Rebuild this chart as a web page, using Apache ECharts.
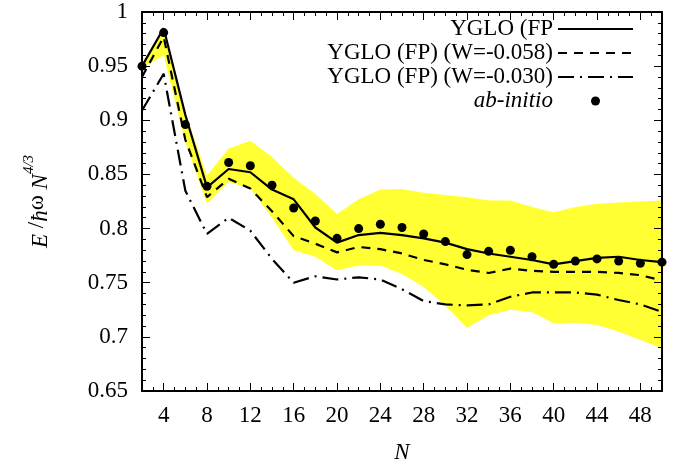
<!DOCTYPE html>
<html>
<head>
<meta charset="utf-8">
<script src="https://cdn.jsdelivr.net/npm/echarts@6/dist/echarts.min.js"></script>
<style>
  html, body { margin: 0; padding: 0; background: #fff; }
  #chart { width: 687px; height: 469px; }
</style>
</head>
<body>
<div id="chart"></div>
<script>
// Particle numbers (even N from 2 to 50)
const N = [2, 4, 6, 8, 10, 12, 14, 16, 18, 20, 22, 24, 26, 28, 30, 32, 34, 36, 38, 40, 42, 44, 46, 48, 50];

// Scaled energies E / (hbar omega N^{4/3})
const abInitio = [0.950, 0.981, 0.896, 0.839, 0.861, 0.858, 0.840, 0.819, 0.807, 0.791, 0.800, 0.804, 0.801,
                  0.795, 0.788, 0.776, 0.779, 0.780, 0.774, 0.767, 0.770, 0.772, 0.770, 0.768, 0.769];
const ygloFP   = [0.950, 0.985, 0.905, 0.838, 0.855, 0.852, 0.836, 0.827, 0.801, 0.787, 0.794, 0.796, 0.794,
                  0.791, 0.787, 0.781, 0.777, 0.774, 0.771, 0.767, 0.770, 0.773, 0.774, 0.771, 0.769];
const ygloW058 = [0.940, 0.977, 0.882, 0.829, 0.846, 0.837, 0.816, 0.793, 0.786, 0.778, 0.783, 0.781, 0.777,
                  0.771, 0.767, 0.762, 0.759, 0.763, 0.761, 0.760, 0.760, 0.760, 0.759, 0.757, 0.752];
const ygloW030 = [0.909, 0.943, 0.835, 0.795, 0.810, 0.798, 0.772, 0.750, 0.756, 0.753, 0.755, 0.753, 0.744,
                  0.733, 0.730, 0.729, 0.730, 0.737, 0.741, 0.741, 0.741, 0.739, 0.734, 0.730, 0.723];

// Uncertainty band limits
const bandUpper = [0.953, 0.985, 0.907, 0.849, 0.874, 0.881, 0.866, 0.847, 0.832, 0.8135, 0.827, 0.836, 0.8365,
                   0.833, 0.831, 0.829, 0.826, 0.826, 0.820, 0.815, 0.820, 0.823, 0.824, 0.825, 0.826];
const bandLower = [0.948, 0.960, 0.880, 0.823, 0.843, 0.837, 0.810, 0.780, 0.774, 0.7615, 0.766, 0.766, 0.758,
                   0.746, 0.729, 0.7085, 0.720, 0.725, 0.723, 0.7125, 0.713, 0.711, 0.705, 0.697, 0.6895];

// Axis labels
const xTickLabels = [4, 8, 12, 16, 20, 24, 28, 32, 36, 40, 44, 48];

const seriesNames = ['YGLO (FP', 'YGLO (FP) (W=-0.058)', 'YGLO (FP) (W=-0.030)', 'ab-initio'];

const pairs = (ys) => N.map((n, i) => [n, ys[i]]);
const bandData = N.map((n, i) => [n, bandLower[i], bandUpper[i]]);

const FONT = 'Liberation Serif';
const black = '#000';
const LW = 2.2;

const xBase = {
  type: 'value', min: 2, max: 50, z: 5,
  splitLine: { show: false },
  axisLine: { show: true, onZero: false, lineStyle: { color: black, width: 2 } },
  axisLabel: { show: false }
};

// Whole band drawn as one polygon: upper edge left-to-right, lower edge back.
function renderBand(params, api) {
  if (params.dataIndex !== 0) return null;
  const upper = bandData.map(d => api.coord([d[0], d[2]]));
  const lower = bandData.map(d => api.coord([d[0], d[1]])).reverse();
  return {
    type: 'polygon',
    shape: { points: upper.concat(lower) },
    style: { fill: '#ffff33', stroke: null },
    silent: true
  };
}

const chart = echarts.init(document.getElementById('chart'), null, { renderer: 'canvas' });

chart.setOption({
  animation: false,
  backgroundColor: '#fff',
  grid: { left: 142, right: 25, top: 12, bottom: 76 },
  xAxis: [
    Object.assign({}, xBase, {
      position: 'bottom', interval: 1,
      name: 'N', nameLocation: 'middle', nameGap: 50,
      nameTextStyle: { fontFamily: FONT, fontSize: 23, fontStyle: 'italic', color: black },
      axisTick: { inside: true, length: 4, lineStyle: { color: black, width: 1 } },
      axisLabel: { show: true, customValues: xTickLabels, color: black, fontFamily: FONT, fontSize: 23, margin: 13 }
    }),
    Object.assign({}, xBase, {
      position: 'bottom', axisLine: { show: false },
      axisTick: { inside: true, length: 8, customValues: xTickLabels, lineStyle: { color: black, width: 1 } }
    }),
    Object.assign({}, xBase, {
      position: 'top', interval: 1,
      axisTick: { inside: true, length: 4, lineStyle: { color: black, width: 1 } }
    }),
    Object.assign({}, xBase, {
      position: 'top', axisLine: { show: false },
      axisTick: { inside: true, length: 8, customValues: xTickLabels, lineStyle: { color: black, width: 1 } }
    })
  ],
  yAxis: [
    {
      type: 'value', position: 'left', min: 0.65, max: 1, interval: 0.05, z: 5,
      splitLine: { show: false },
      axisLine: { show: true, onZero: false, lineStyle: { color: black, width: 2 } },
      axisTick: { inside: true, length: 8, lineStyle: { color: black, width: 1 } },
      minorTick: { show: true, splitNumber: 5, length: 4, lineStyle: { color: black, width: 1 } },
      axisLabel: { color: black, fontFamily: FONT, fontSize: 23, margin: 14 },
      name: '{i|E} /{i|ħ}ω {i|N}{s|4/3}',
      nameLocation: 'middle', nameRotate: 90, nameGap: 90,
      nameTextStyle: {
        fontFamily: FONT, fontSize: 23, color: black, lineHeight: 30, verticalAlign: 'bottom',
        rich: {
          i: { fontFamily: FONT, fontSize: 23, fontStyle: 'italic', color: black, lineHeight: 30, verticalAlign: 'bottom' },
          s: { fontFamily: FONT, fontSize: 15, fontStyle: 'italic', color: black, lineHeight: 30, verticalAlign: 'top' }
        }
      }
    },
    {
      type: 'value', position: 'right', min: 0.65, max: 1, interval: 0.05, z: 5,
      splitLine: { show: false },
      axisLine: { show: true, onZero: false, lineStyle: { color: black, width: 2 } },
      axisTick: { inside: true, length: 8, lineStyle: { color: black, width: 1 } },
      minorTick: { show: true, splitNumber: 5, length: 4, lineStyle: { color: black, width: 1 } },
      axisLabel: { show: false }
    }
  ],
  legend: {
    orient: 'vertical', align: 'right',
    right: 48, top: 12,
    itemWidth: 75, itemHeight: 9, itemGap: 0,
    selectedMode: false,
    data: [
      { name: seriesNames[0], itemStyle: { opacity: 0 } },
      { name: seriesNames[1], itemStyle: { opacity: 0 } },
      { name: seriesNames[2], itemStyle: { opacity: 0 } },
      { name: seriesNames[3], icon: 'circle' }
    ],
    formatter: (name) => name === 'ab-initio' ? '{it|' + name + '}' : name,
    textStyle: {
      fontFamily: FONT, fontSize: 23, color: black, lineHeight: 24, width: 250,
      rich: { it: { fontFamily: FONT, fontSize: 23, fontStyle: 'italic', color: black, lineHeight: 24, align: 'right' } }
    }
  },
  series: [
    {
      name: 'band', type: 'custom', data: bandData, renderItem: renderBand,
      encode: { x: 0, y: [1, 2] }, silent: true, z: 1, clip: true
    },
    {
      name: seriesNames[0], type: 'line', data: pairs(ygloFP), symbol: 'none',
      lineStyle: { color: black, width: LW }, itemStyle: { color: black }, z: 3
    },
    {
      name: seriesNames[1], type: 'line', data: pairs(ygloW058), symbol: 'none',
      lineStyle: { color: black, width: LW, type: [9, 7] }, itemStyle: { color: black }, z: 3
    },
    {
      name: seriesNames[2], type: 'line', data: pairs(ygloW030), symbol: 'none',
      lineStyle: { color: black, width: LW, type: [16, 6, 2, 6] }, itemStyle: { color: black }, z: 3
    },
    {
      name: seriesNames[3], type: 'scatter', data: pairs(abInitio), symbol: 'circle', symbolSize: 9,
      itemStyle: { color: black, opacity: 1 }, z: 4
    }
  ]
});
</script>
</body>
</html>
